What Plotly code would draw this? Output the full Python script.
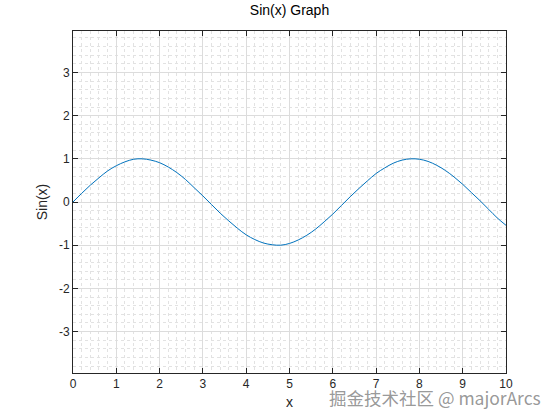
import plotly.graph_objects as go

x_vals = [0.0, 0.2, 0.4, 0.6, 0.8, 1.0, 1.2, 1.4, 1.6, 1.8,
          2.0, 2.2, 2.4, 2.6, 2.8, 3.0, 3.2, 3.4, 3.6, 3.8,
          4.0, 4.2, 4.4, 4.6, 4.8, 5.0, 5.2, 5.4, 5.6, 5.8,
          6.0, 6.2, 6.4, 6.6, 6.8, 7.0, 7.2, 7.4, 7.6, 7.8,
          8.0, 8.2, 8.4, 8.6, 8.8, 9.0, 9.2, 9.4, 9.6, 9.8, 10.0]
y_vals = [0.00, 0.20, 0.39, 0.56, 0.72, 0.84, 0.93, 0.99, 1.00, 0.97,
          0.91, 0.81, 0.68, 0.52, 0.33, 0.14, -0.06, -0.26, -0.44, -0.61,
          -0.76, -0.87, -0.95, -0.99, -1.00, -0.96, -0.88, -0.77, -0.63, -0.46,
          -0.28, -0.08, 0.12, 0.31, 0.49, 0.66, 0.79, 0.90, 0.97, 1.00,
          0.99, 0.94, 0.85, 0.73, 0.58, 0.41, 0.22, 0.03, -0.17, -0.37, -0.54]
x_ticks = [0, 1, 2, 3, 4, 5, 6, 7, 8, 9, 10]
y_ticks = [-3, -2, -1, 0, 1, 2, 3]
y_tick_labels = ["-3", "-2", "-1", "0", "1", "2", "3"]

FONT = "Liberation Sans, Arial, sans-serif"

fig = go.Figure()
fig.add_trace(go.Scatter(x=x_vals, y=y_vals, mode="lines",
                         line=dict(color="#0072BD", width=1, shape="spline"),
                         showlegend=False, hoverinfo="skip"))

axis_common = dict(
    showline=True, linecolor="#262626", linewidth=1, mirror="allticks",
    ticks="inside", ticklen=5, tickcolor="#262626",
    showgrid=True, gridcolor="#dcdcdc", gridwidth=1,
    zeroline=False,
    tickfont=dict(family=FONT, size=12, color="#262626"),
    title_font=dict(family=FONT, size=14, color="#262626"),
)

fig.update_xaxes(range=[0, 10], tickvals=x_ticks, title_text="x",
                 title_standoff=6,
                 minor=dict(dtick=0.2, showgrid=True, gridcolor="#e2e2e2",
                            griddash="dot", gridwidth=1, ticks=""),
                 **axis_common)
fig.update_yaxes(range=[-3.96, 3.96], tickvals=y_ticks, ticktext=y_tick_labels,
                 title_text="Sin(x)", title_standoff=8,
                 minor=dict(dtick=0.2, showgrid=True, gridcolor="#e2e2e2",
                            griddash="dot", gridwidth=1, ticks=""),
                 **axis_common)

fig.update_layout(
    width=560, height=420,
    margin=dict(l=73, r=54, t=31, b=47),
    paper_bgcolor="white", plot_bgcolor="white",
    title=dict(text="Sin(x) Graph", x=0.5, xanchor="center", y=1 - 10 / 420,
               yanchor="middle", xref="paper",
               font=dict(family=FONT, size=14, color="#000000")),
    annotations=[dict(text="掘金技术社区 @ majorArcs", xref="paper", yref="paper",
                      x=(543 - 73) / 433, y=-(397 - 373) / 342,
                      xanchor="right", yanchor="middle", showarrow=False,
                      font=dict(family="Noto Sans CJK SC, sans-serif", size=17.5,
                                color="rgba(140,140,140,0.9)"))],
)

fig.write_html("out.html", post_script="document.body.style.margin='0';",
               config={"displayModeBar": False})
